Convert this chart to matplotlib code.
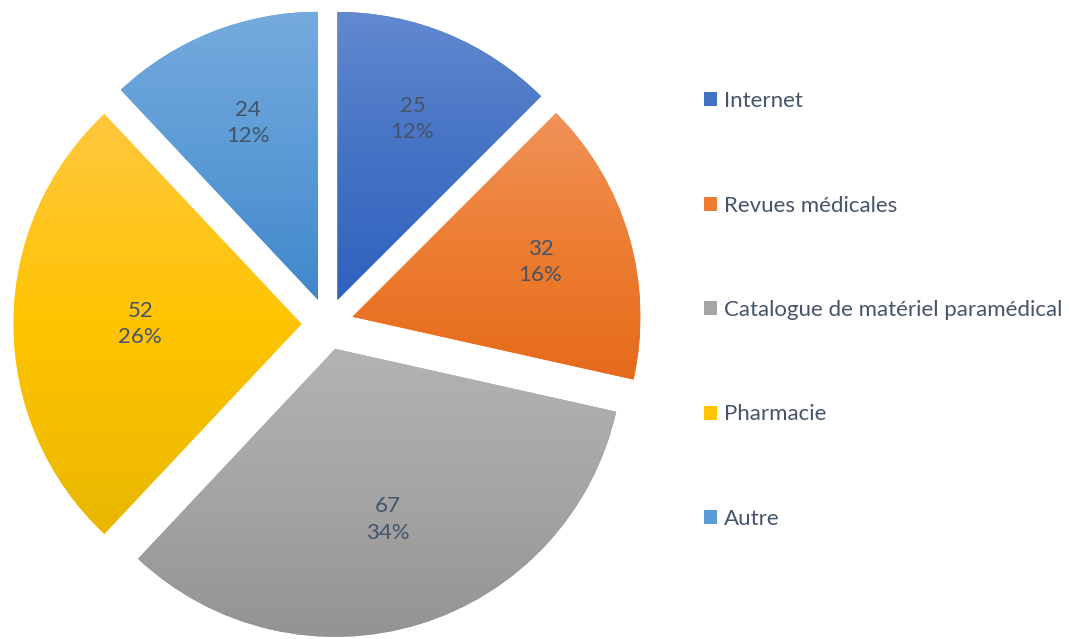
import numpy as np
import matplotlib.pyplot as plt
from matplotlib.colors import LinearSegmentedColormap
from matplotlib.patches import Patch

# data
categories = ['Internet', 'Revues médicales', 'Catalogue de matériel paramédical', 'Pharmacie', 'Autre']
values = [25, 32, 67, 52, 24]

# gradient colours: top of slice, middle (base colour), bottom of slice
top_colors = ['#6289d0', '#f0925a', '#b3b3b3', '#ffc73f', '#75aade']
base_colors = ['#4472c4', '#ed7d31', '#a5a5a5', '#ffc400', '#5b9bd5']
bottom_colors = ['#2f62bf', '#e66a1b', '#939393', '#e9b700', '#4287cb']
label_dist = [0.68, 0.68, 0.62, 0.56, 0.66]   # excel puts the labels a bit unevenly

text_col = '#44546A'
font = 'Lato'

W, H = 1069, 639
fig = plt.figure(figsize=(W / 100, H / 100), dpi=100)

R = 288.0            # pie radius in pixels
cx, cy = 327.5, H - 324
half = 1.2
ax = fig.add_axes([(cx - half * R) / W, (cy - half * R) / H, 2 * half * R / W, 2 * half * R / H])

total = sum(values)
wedges, _ = ax.pie(values, explode=[26 / R] * len(values), startangle=90, counterclock=False,
                   radius=1, colors=base_colors, wedgeprops=dict(linewidth=0))

grad = np.linspace(0, 1, 256).reshape(-1, 1)
for i, w in enumerate(wedges):
    ext = w.get_path().get_extents()
    cmap = LinearSegmentedColormap.from_list('g%d' % i, [bottom_colors[i], base_colors[i], top_colors[i]])
    im = ax.imshow(grad, extent=[ext.x0, ext.x1, ext.y0, ext.y1], origin='lower',
                   cmap=cmap, aspect='auto', zorder=2, interpolation='bilinear')
    im.set_clip_path(w)

    mid = np.deg2rad((w.theta1 + w.theta2) / 2)
    x0, y0 = w.center
    pct = round(values[i] / total * 100)
    ax.text(x0 + label_dist[i] * np.cos(mid), y0 + label_dist[i] * np.sin(mid),
            '%d\n%d%%' % (values[i], pct), ha='center', va='center', fontsize=16,
            color=text_col, family=font, linespacing=1.4, zorder=3)

ax.set_xlim(-half, half)
ax.set_ylim(-half, half)
ax.axis('off')

handles = [Patch(facecolor=c, edgecolor='none') for c in base_colors]
leg = fig.legend(handles, categories, loc='center left', bbox_to_anchor=(704 / W, 329 / H),
                 frameon=False, labelspacing=3.8, handlelength=0.58, handleheight=0.58,
                 handletextpad=0.3, borderpad=0, borderaxespad=0, prop={'family': font, 'size': 16})
for t in leg.get_texts():
    t.set_color(text_col)

fig.savefig('out.png', dpi=100)
